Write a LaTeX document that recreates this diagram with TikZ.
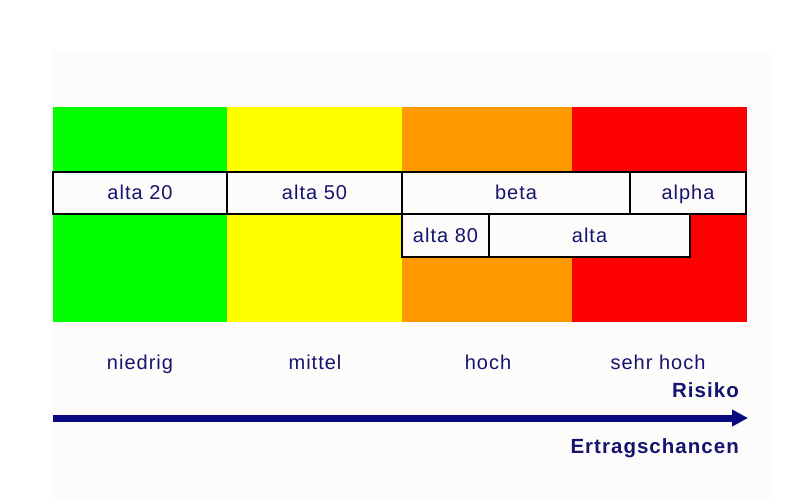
\documentclass[tikz,border=0pt]{standalone}
\usepackage{fontspec}
\setmainfont{Liberation Sans}[LetterSpace=5]
\usetikzlibrary{arrows.meta}
\definecolor{bgfaint}{HTML}{FEFCFA}
\definecolor{bgreen}{HTML}{00FF00}
\definecolor{byellow}{HTML}{FFFF00}
\definecolor{borange}{HTML}{FF9900}
\definecolor{bred}{HTML}{FF0000}
\definecolor{navytext}{HTML}{14146E}
\definecolor{navyarrow}{HTML}{0A0A80}
\tikzset{
  box/.style={draw=black, line width=1.6pt, fill=bgfaint, anchor=north west,
    inner sep=0pt, outer sep=0pt, text=navytext, font=\fontsize{20}{24}\selectfont,
    text height=16pt, text depth=3pt},
  lvl/.style={text=navytext, font=\fontsize{20}{24}\selectfont, inner sep=0pt,
    text height=14.5pt, text depth=4pt},
  axislbl/.style={text=navytext, font=\bfseries\fontsize{20.5}{24}\selectfont, inner sep=0pt, anchor=east,
    text height=14.5pt, text depth=4pt},
}
\begin{document}
\begin{tikzpicture}[x=1pt,y=-1pt]
\useasboundingbox (0,0) rectangle (800,500);
\fill[white] (0,0) rectangle (800,500);
\fill[bgfaint] (52,50) rectangle (770,500);
% bands
\fill[bgreen] (53,107) rectangle (227,322);
\fill[byellow] (227,107) rectangle (402,322);
\fill[borange] (402,107) rectangle (572,322);
\fill[bred] (572,107) rectangle (747,322);
% row 1
\node[box, minimum width=174pt, minimum height=42pt] (a20) at (53,172) {alta 20};
\node[box, minimum width=175pt, minimum height=42pt] (a50) at (227,172) {alta 50};
\node[box, minimum width=228pt, minimum height=42pt] (beta) at (402,172) {beta};
\node[box, minimum width=116pt, minimum height=42pt] (alpha) at (630,172) {alpha};
% row 2
\node[box, minimum width=87pt, minimum height=43pt] (a80) at (402,214) {alta 80};
\node[box, minimum width=201pt, minimum height=43pt] (alta) at (489,214) {alta};
% levels
\node[lvl] (l1) at (140,364) {niedrig};
\node[lvl] (l2) at (315,364) {mittel};
\node[lvl] (l3) at (488,364) {hoch};
\node[lvl] (l4) at (658,364) {sehr hoch};
\node[axislbl] (risk) at (739,392) {Risiko};
\node[axislbl] (ertr) at (739,448) {Ertragschancen};
% arrow
\coordinate (as) at (53,418);
\coordinate (ae) at (748,418);
\draw[navyarrow, line width=7pt, -{Triangle[length=16pt,width=16pt]}] (as) -- (ae);
\end{tikzpicture}
\end{document}
